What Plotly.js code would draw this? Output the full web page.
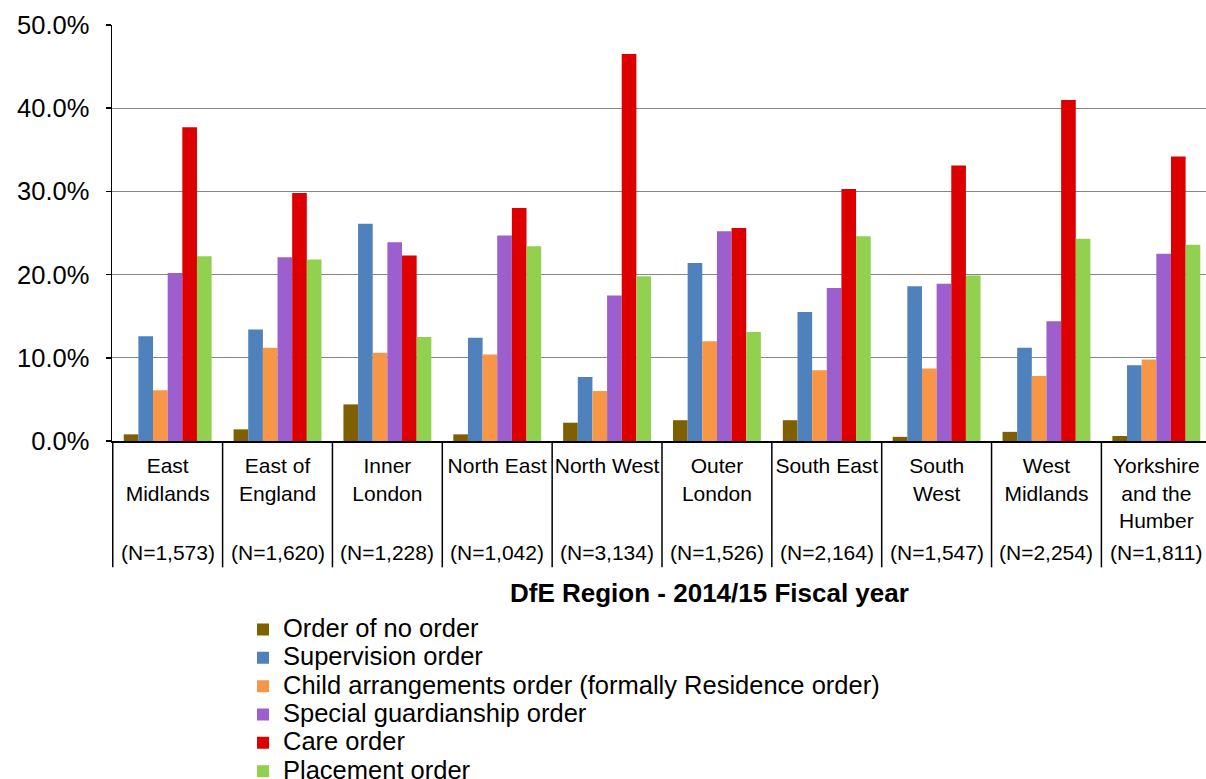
<!DOCTYPE html>
<html>
<head>
<meta charset="utf-8">
<script src="https://cdn.plot.ly/plotly-3.0.1.min.js"></script>
<style>
html, body { margin: 0; padding: 0; overflow: hidden; background: #fff; }
#chart { width: 1213px; height: 779px; }
</style>
</head>
<body>
<div id="chart"></div>
<script>
// Categories (DfE regions) and sample sizes
const regions = ["East Midlands", "East of England", "Inner London", "North East", "North West",
                 "Outer London", "South East", "South West", "West Midlands", "Yorkshire and the Humber"];
const regionLabels = ["East<br>Midlands", "East of<br>England", "Inner<br>London", "North East", "North West",
                      "Outer<br>London", "South East", "South<br>West", "West<br>Midlands", "Yorkshire<br>and the<br>Humber"];
const sampleSizes = ["(N=1,573)", "(N=1,620)", "(N=1,228)", "(N=1,042)", "(N=3,134)",
                     "(N=1,526)", "(N=2,164)", "(N=1,547)", "(N=2,254)", "(N=1,811)"];

// Series values (% of orders)
const orderOfNoOrder     = [0.8, 1.4, 4.4, 0.8, 2.2, 2.5, 2.5, 0.5, 1.1, 0.6];
const supervisionOrder   = [12.6, 13.4, 26.1, 12.4, 7.7, 21.4, 15.5, 18.6, 11.2, 9.1];
const childArrangements  = [6.1, 11.2, 10.6, 10.4, 6.0, 12.0, 8.5, 8.7, 7.8, 9.8];
const specialGuardianship= [20.2, 22.1, 23.9, 24.7, 17.5, 25.2, 18.4, 18.9, 14.4, 22.5];
const careOrder          = [37.7, 29.8, 22.3, 28.0, 46.5, 25.6, 30.3, 33.1, 41.0, 34.2];
const placementOrder     = [22.2, 21.8, 12.5, 23.4, 19.8, 13.1, 24.6, 19.9, 24.3, 23.6];

const seriesNames = ["Order of no order", "Supervision order",
                     "Child arrangements order (formally Residence order)",
                     "Special guardianship order", "Care order", "Placement order"];
const seriesValues = [orderOfNoOrder, supervisionOrder, childArrangements,
                      specialGuardianship, careOrder, placementOrder];
const seriesColors = ["#7F6000", "#4F81BD", "#F79646", "#9E5FCE", "#DD0000", "#92D050"];

const traces = seriesNames.map((name, i) => ({
  type: "bar",
  x: regions,
  y: seriesValues[i],
  name: '<span style="font-size:25.5px">' + name + '</span>',
  marker: { color: seriesColors[i], line: { width: 0 } },
  hoverinfo: "x+y"
}));

const plotBottom = 441.5, plotH = 416.5;
const py = (px) => (plotBottom - px) / plotH;

const shapes = [];
for (let i = 0; i <= regions.length; i++) {
  shapes.push({
    type: "line", xref: "x", yref: "paper",
    x0: i - 0.5, x1: i - 0.5, y0: 0, y1: py(568),
    line: { color: "#000", width: 1.5 }
  });
}

const annotations = sampleSizes.map((s, i) => ({
  text: s, xref: "x", yref: "paper", x: regions[i], y: py(553),
  xanchor: "center", yanchor: "middle", showarrow: false,
  font: { family: "Liberation Sans, Arial, sans-serif", size: 21, color: "#000" }
}));
annotations.push({
  text: "<b>DfE Region - 2014/15 Fiscal year</b>",
  xref: "paper", yref: "paper", x: (709 - 112) / 1100, y: py(594),
  xanchor: "center", yanchor: "middle", showarrow: false,
  font: { family: "Liberation Sans, Arial, sans-serif", size: 26, color: "#000" }
});

const layout = {
  width: 1213, height: 779,
  margin: { l: 112, r: 1, t: 25, b: 337.5, pad: 0, autoexpand: false },
  paper_bgcolor: "#fff", plot_bgcolor: "#fff",
  font: { family: "Liberation Sans, Arial, sans-serif", color: "#000" },
  barmode: "group", bargap: 0.2, bargroupgap: 0,
  showlegend: true,
  legend: {
    x: (243 - 112) / 1100, y: py(611), xanchor: "left", yanchor: "top",
    orientation: "v", traceorder: "normal",
    font: { size: 19.5, color: "#000" },
    bgcolor: "rgba(0,0,0,0)", borderwidth: 0
  },
  xaxis: {
    type: "category",
    tickmode: "array", tickvals: regions, ticktext: regionLabels,
    tickfont: { size: 21, color: "#000" },
    ticks: "", ticklabelstandoff: 5,
    showline: true, linecolor: "#000", linewidth: 2,
    showgrid: false, zeroline: false, fixedrange: true
  },
  yaxis: {
    range: [0, 50], dtick: 10, tick0: 0,
    tickformat: ".1f", ticksuffix: "%",
    tickfont: { size: 25.5, color: "#000" },
    ticks: "outside", ticklen: 5, tickcolor: "#000", tickwidth: 1.5,
    ticklabelstandoff: 11,
    showline: true, linecolor: "#000", linewidth: 1.5,
    showgrid: true, gridcolor: "#868686", gridwidth: 1.3,
    zeroline: false, fixedrange: true
  },
  shapes: shapes,
  annotations: annotations
};

Plotly.newPlot("chart", traces, layout, { displayModeBar: false, staticPlot: true });
</script>
</body>
</html>
